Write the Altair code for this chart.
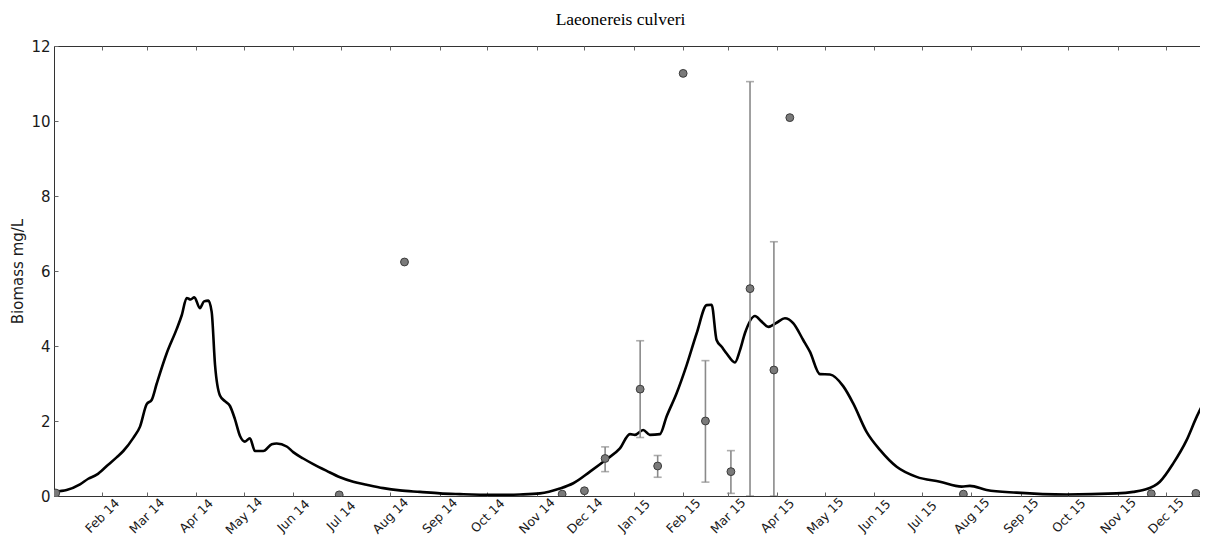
import altair as alt
import pandas as pd

TITLE = "Laeonereis culveri"
Y_TITLE = "Biomass mg/L"

# Model curve: days since 2014-01-01 and biomass (mg/L)
line_day = [1.5, 8.8, 17.2, 22.4, 27.7, 34, 40.2, 44.4, 50.7, 54.9,
            59.1, 62.2, 65.4, 71.6, 77.9, 81.1, 84.2, 86.7, 89, 92.5,
            95.1, 97.8, 99.9, 102, 105.1, 108.2, 111.4, 114.5, 117.7, 120.8,
            123.9, 127.1, 132.3, 137.6, 140.7, 147, 151.1, 157.4, 163.7, 172.1,
            180.5, 188.8, 197.2, 207.7, 218.1, 230.7, 243.3, 255.8, 268.4, 280.9,
            293.5, 306.1, 318.6, 327, 337.5, 347.9, 356.3, 362.6, 365.7, 370.9,
            375.1, 381.4, 385.6, 391.9, 398.2, 404.5, 410.8, 413.9, 417, 420.2,
            423.3, 428.5, 431.7, 434.8, 441.1, 445.3, 449.4, 454.7, 459.9, 465.1,
            471.4, 475.6, 481.9, 488.2, 496.5, 502.8, 511.2, 519.6, 530.1, 542.6,
            557.3, 570.9, 576.1, 586.6, 605.4, 636.8, 668.2, 678.7, 685, 695.4,
            703.8, 712.2, 718.5, 721.6, 725.6]
line_val = [0.12, 0.16, 0.31, 0.46, 0.57, 0.8, 1.03, 1.2, 1.55, 1.85,
            2.45, 2.56, 3.0, 3.8, 4.45, 4.82, 5.28, 5.24, 5.3, 5.01,
            5.19, 5.21, 4.91, 3.5, 2.68, 2.53, 2.4, 2.05, 1.6, 1.45,
            1.54, 1.2, 1.2, 1.38, 1.4, 1.32, 1.17, 1.0, 0.85, 0.67,
            0.5, 0.38, 0.3, 0.21, 0.15, 0.11, 0.07, 0.05, 0.035, 0.03,
            0.04, 0.07, 0.2, 0.34, 0.65, 0.98, 1.27, 1.65, 1.63, 1.76,
            1.63, 1.65, 2.12, 2.74, 3.49, 4.34, 5.09, 5.1, 4.16, 3.98,
            3.8, 3.56, 3.89, 4.34, 4.8, 4.65, 4.51, 4.62, 4.74, 4.61,
            4.16, 3.85, 3.25, 3.24, 2.93, 2.47, 1.71, 1.23, 0.78, 0.51,
            0.38, 0.25, 0.27, 0.16, 0.09, 0.04, 0.07, 0.11, 0.16, 0.38,
            0.87, 1.49, 2.11, 2.38, 2.6]

# Observations
obs_date = ["2014-01-03", "2014-06-30", "2014-08-10", "2014-11-17", "2014-12-01",
            "2014-12-14", "2015-01-05", "2015-01-16", "2015-02-01", "2015-02-15",
            "2015-03-03", "2015-03-15", "2015-03-30", "2015-04-09", "2015-07-27",
            "2015-11-22", "2015-12-20"]
obs_val = [0.08, 0.03, 6.24, 0.05, 0.14, 1.0, 2.85, 0.8, 11.27, 2.0,
           0.65, 5.53, 3.36, 10.09, 0.05, 0.06, 0.07]

# Error bars
err_date = ["2014-12-14", "2015-01-05", "2015-01-16", "2015-02-15",
            "2015-03-03", "2015-03-15", "2015-03-30"]
err_low = [0.65, 1.56, 0.5, 0.37, 0.07, 0.0, 0.0]
err_high = [1.31, 4.14, 1.08, 3.61, 1.21, 11.05, 6.78]

y_ticks = [0, 2, 4, 6, 8, 10, 12]

line_df = pd.DataFrame({
    "date": pd.Timestamp("2014-01-01") + pd.to_timedelta(line_day, unit="D"),
    "val": line_val,
})
obs_df = pd.DataFrame({"date": pd.to_datetime(obs_date), "val": obs_val})
err_df = pd.DataFrame({"date": pd.to_datetime(err_date), "low": err_low, "high": err_high})

x_scale = alt.Scale(domain=[alt.DateTime(year=2014, month=1, date=1, hours=21),
                            alt.DateTime(year=2015, month=12, date=27)])
y_scale = alt.Scale(domain=[0, 12], nice=False, zero=False)

months = {"interval": "month", "step": 1}
LABEL_FONT = "DejaVu Sans"
TEXT_COLOR = "#1a1a1a"
TICK_COLOR = "#666666"

x_bottom = alt.Axis(orient="bottom", title=None, format="%b %y", tickCount=months,
                    labelAngle=-45, labelAlign="center", labelBaseline="middle",
                    labelPadding=19.5, labelFont=LABEL_FONT, labelFontSize=12.5,
                    labelColor=TEXT_COLOR, offset=-4, tickSize=4, tickColor=TICK_COLOR,
                    domain=False, grid=False, labelOverlap=False, labelFlush=False)
y_left = alt.Axis(orient="left", title=Y_TITLE, values=y_ticks, offset=-4, tickSize=4,
                  tickColor=TICK_COLOR, domain=False, grid=False,
                  labelFont=LABEL_FONT, labelFontSize=15, labelColor=TEXT_COLOR,
                  labelPadding=4, titleFont=LABEL_FONT, titleFontSize=15,
                  titleFontWeight="normal", titleColor=TEXT_COLOR, titlePadding=5)
x_top = alt.Axis(orient="top", title=None, tickCount=months, labels=False, offset=-4,
                 tickSize=4, tickColor=TICK_COLOR, domain=False, grid=False)
y_right = alt.Axis(orient="right", title=None, values=y_ticks, labels=False, offset=-4,
                   tickSize=4, tickColor=TICK_COLOR, domain=False, grid=False)

line = alt.Chart(line_df).mark_line(color="black", strokeWidth=2.6, clip=True,
                                    interpolate="monotone").encode(
    x=alt.X("date:T", scale=x_scale, axis=x_bottom),
    y=alt.Y("val:Q", scale=y_scale, axis=y_left),
)

bars = alt.Chart(err_df).mark_rule(color="#8a8a8a", strokeWidth=1.6, clip=True).encode(
    x=alt.X("date:T", scale=x_scale, axis=None),
    y=alt.Y("low:Q", scale=y_scale, axis=None),
    y2="high:Q",
)
cap_lo = alt.Chart(err_df).mark_tick(color="#8a8a8a", orient="horizontal", size=8,
                                     thickness=1.6, clip=True).encode(
    x=alt.X("date:T", scale=x_scale, axis=None),
    y=alt.Y("low:Q", scale=y_scale, axis=None),
)
cap_hi = alt.Chart(err_df).mark_tick(color="#8a8a8a", orient="horizontal", size=8,
                                     thickness=1.6, clip=True).encode(
    x=alt.X("date:T", scale=x_scale, axis=None),
    y=alt.Y("high:Q", scale=y_scale, axis=None),
)

points = alt.Chart(obs_df).mark_circle(size=62, color="#7a7a7a", stroke="#3c3c3c",
                                       strokeWidth=1, opacity=1, clip=True).encode(
    x=alt.X("date:T", scale=x_scale, axis=x_top),
    y=alt.Y("val:Q", scale=y_scale, axis=y_right),
)

chart = alt.layer(line, bars, cap_lo, cap_hi, points).resolve_axis(
    x="independent", y="independent"
).properties(
    width=1153,
    height=450,
    autosize=alt.AutoSizeParams(type="none"),
    padding={"left": 46, "top": 38, "right": -7, "bottom": 40},
    title=alt.TitleParams(TITLE, font="Liberation Serif", fontSize=17.5,
                          fontWeight="normal", color="#000000", anchor="middle",
                          dx=-10, offset=10.5),
).configure_view(stroke="#333333", strokeWidth=1)

chart.save("out.html", embed_options={"renderer": "svg", "actions": False})
